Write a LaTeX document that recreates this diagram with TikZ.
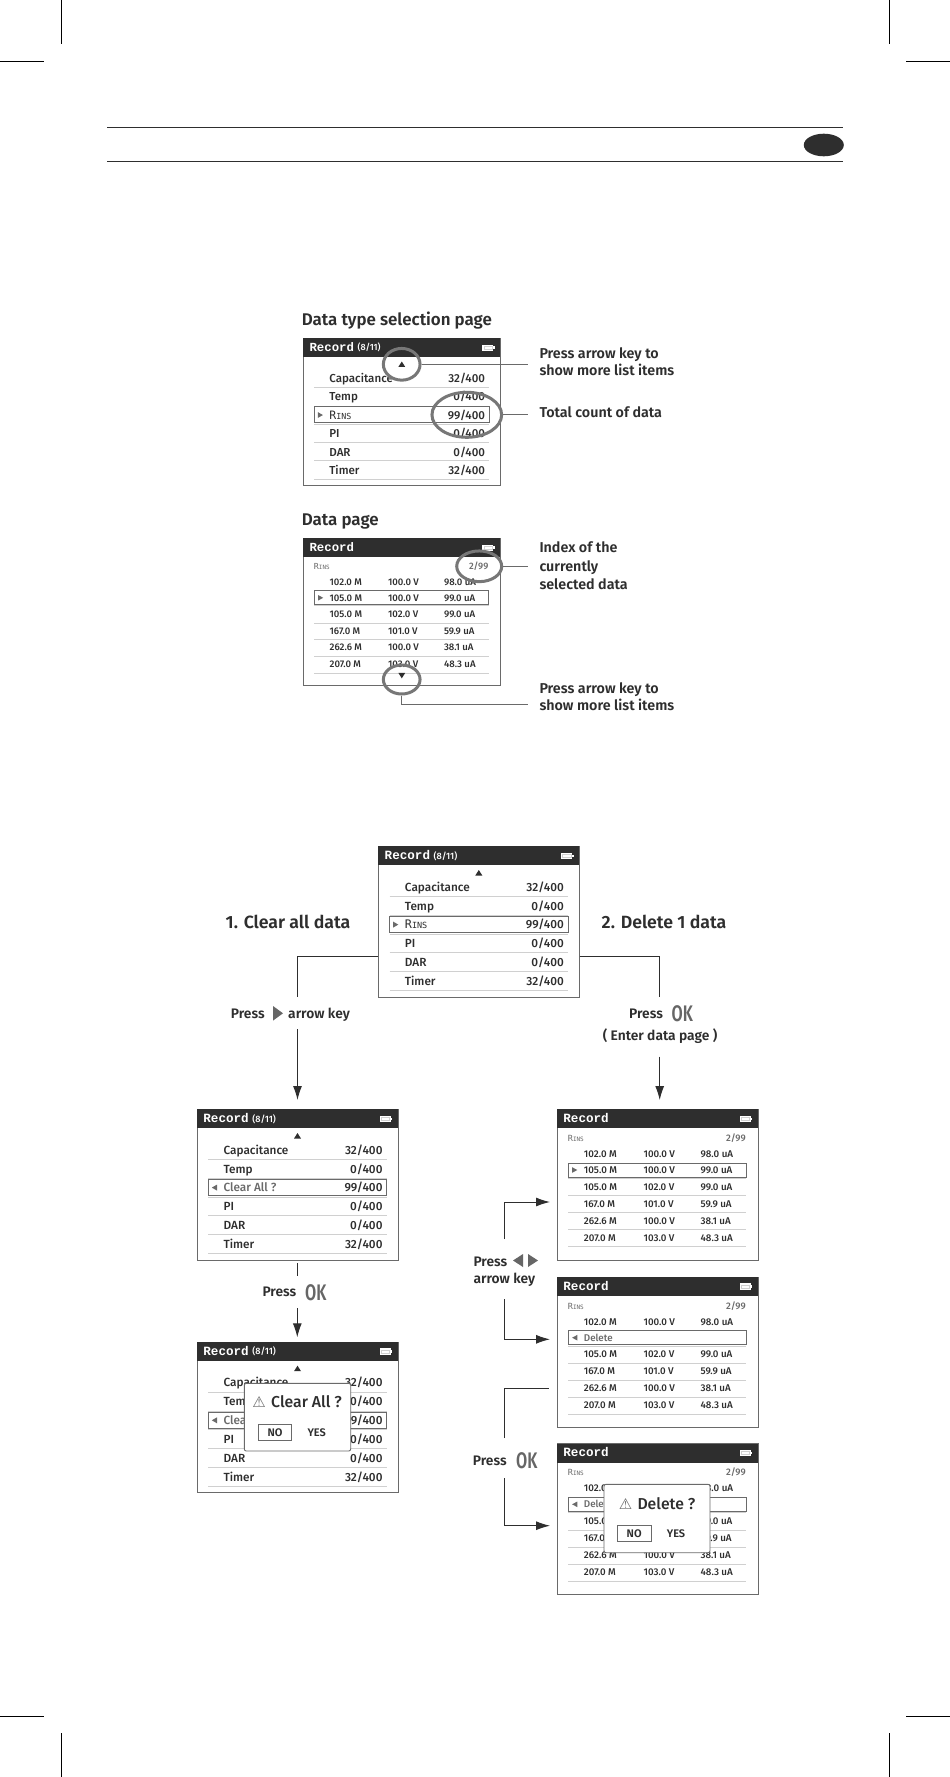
\documentclass[tikz,border=0pt]{standalone}
\usepackage{fontspec}
\usepackage{graphicx}
\setmainfont{Fira Sans}[UprightFont=*-Medium,BoldFont=*-SemiBold]
\newfontfamily\rowfont{Fira Sans}[UprightFont=*-Medium]
\newfontfamily\monof{Liberation Mono}
\newfontfamily\rinsf{DejaVu Sans Mono}
\newfontfamily\djv{DejaVu Sans}
\definecolor{ink}{HTML}{2E2E2E}
\definecolor{frame}{HTML}{6A6A6A}
\definecolor{sepc}{HTML}{D0D0D0}
\definecolor{ovalc}{HTML}{777777}
\definecolor{okc}{HTML}{666666}
\newcommand{\fz}[1]{\fontsize{#1}{#1}\selectfont}
\usetikzlibrary{arrows.meta,shapes.geometric}
\tikzset{
  x=1pt,y=-1pt,
  frameb/.style={draw=frame,line width=0.9pt,fill=white,rectangle,minimum width=200.8pt,minimum height=150.5pt,inner sep=0pt,anchor=north west},
  hdr/.style={fill=ink,draw=none,rectangle,minimum width=200.8pt,minimum height=19pt,inner sep=0pt,anchor=north west},
  hdrtxt/.style={text=white,font=\monof\bfseries\fz{12.6},anchor=west,inner sep=0pt,text height=8.5pt,text depth=1pt},
  hdrsub/.style={text=white,font=\rowfont\fz{9.2},anchor=west,inner sep=0pt,text height=9pt,text depth=2pt},
  rowl/.style={text=ink,font=\rowfont\fz{11.8},anchor=west,inner sep=0pt,text height=10.5pt,text depth=2.5pt},
  rowr/.style={text=ink,font=\rowfont\fz{11.8},anchor=east,inner sep=0pt,text height=10.5pt,text depth=2.5pt},
  dat/.style={text=ink,font=\rowfont\fz{9.8},anchor=west,inner sep=0pt,text height=9pt,text depth=2pt},
  seph/.style={draw=sepc,line width=0.7pt},
  selb/.style={draw=frame,line width=1pt,fill=white},
  glab/.style={text=frame,font=\rowfont\fz{9.5},inner sep=0pt,text height=9pt,text depth=2pt},
  ovalb/.style={draw=ovalc,line width=3pt,ellipse,inner sep=0pt},
  lab/.style={text=ink,font=\bfseries\fz{14.3},anchor=west,inner sep=0pt,text height=12.2pt,text depth=3pt},
  title/.style={text=ink,font=\bfseries\fz{16.9},anchor=west,inner sep=0pt,text height=14.2pt,text depth=4pt},
  bigt/.style={text=ink,font=\bfseries\fz{17.7},anchor=west,inner sep=0pt,text height=15.2pt,text depth=4pt},
  presst/.style={text=ink,font=\bfseries\fz{13.8},anchor=west,inner sep=0pt,text height=13pt,text depth=3pt},
  okt/.style={text=okc,font=\bfseries\fz{22.5},anchor=west,inner sep=0pt},
  conn/.style={draw=ink,line width=1pt},
  arr/.style={conn,-{Latex[length=14pt,width=9pt]}},
  leader/.style={draw=frame,line width=1pt},
  crop/.style={draw=black,line width=0.7pt},
  dlg/.style={draw=frame,line width=0.9pt,fill=white,rounded corners=2pt},
  dlgt/.style={anchor=west,inner sep=0pt,text=ink,font=\rowfont\fz{15.8},text height=13.5pt,text depth=3pt},
  btn/.style={inner sep=0pt,text=ink,font=\bfseries\fz{11},text height=8pt,text depth=0pt},
  nob/.style={btn,draw=frame,line width=0.9pt,rectangle,minimum width=33.5pt,minimum height=16pt},
}
% battery icon
\newcommand{\battery}{%
  \fill[white] (183,6.7) rectangle (194.3,12.9);
  \fill[white] (194.3,8.5) rectangle (195.5,11);
  \draw[sepc,line width=0.5pt] (184.5,8.2) rectangle (192.8,11.4);
}
% panel frame: #1 name, #2 x, #3 y, #4 scale
\newcommand{\frameP}[4]{%
  \node[frameb,scale=#4] (#1) at (#2,#3) {};
  \begin{scope}[shift={(#2,#3)},scale=#4,every node/.append style={transform shape}]
    \node[hdr] (#1h) at (0,0) {};
    \battery
  \end{scope}
}
% list panel: #1 name #2 x #3 y #4 scale #5 selected row text #6 triangle sign (1 right, -1 left) #7 text colour
\newcommand{\listP}[7]{%
  \frameP{#1}{#2}{#3}{#4}
  \begin{scope}[shift={(#2,#3)},scale=#4,every node/.append style={transform shape}]
    \node[hdrtxt] (#1r) at (6.5,9.8) {Record};
    \node[hdrsub] (#1c) at (55.5,9.5) {(8/11)};
    \fill[ink] (97.3,29.5) -- (104.3,29.5) -- (100.8,24) -- cycle;
    \node[rowl] (#1a) at (26.7,41) {Capacitance};
    \node[rowr] (#1A) at (186,41) {32/400};
    \draw[seph] (11.7,50.3) -- (190,50.3);
    \node[rowl] (#1b) at (26.7,60) {Temp};
    \node[rowr] (#1B) at (186,60) {0/400};
    \draw[seph] (11.7,69.3) -- (190,69.3);
    \draw[selb] (11.7,70.3) rectangle (190,86.7);
    \fill[frame] ({17.7-#6*2.6},75.6) -- ({17.7+#6*2.6},78.6) -- ({17.7-#6*2.6},81.6) -- cycle;
    \node[rowl,#7] (#1c2) at (26.7,78.7) {#5};
    \node[rowr] (#1C) at (186,78.7) {99/400};
    \draw[seph] (11.7,87.9) -- (190,87.9);
    \node[rowl] (#1d) at (26.7,97.7) {PI};
    \node[rowr] (#1D) at (186,97.7) {0/400};
    \draw[seph] (11.7,106.7) -- (190,106.7);
    \node[rowl] (#1e) at (26.7,116.7) {DAR};
    \node[rowr] (#1E) at (186,116.7) {0/400};
    \draw[seph] (11.7,125.3) -- (190,125.3);
    \node[rowl] (#1f) at (26.7,135.3) {Timer};
    \node[rowr] (#1F) at (186,135.3) {32/400};
    \draw[seph] (11.7,144.3) -- (190,144.3);
  \end{scope}
}
\newcommand{\rins}{{\rinsf R{\fontsize{8.5}{8.5}\selectfont INS}}}
% data row
\newcommand{\datR}[5]{%
  \node[dat] (#1x) at (27,#2) {#3};
  \node[dat] (#1y) at (86.7,#2) {#4};
  \node[dat] (#1z) at (143.7,#2) {#5};
}
% data panel: #1 name #2 x #3 y #4 scale #5 selection mode (sel or del)
\newcommand{\dataP}[5]{%
  \frameP{#1}{#2}{#3}{#4}
  \begin{scope}[shift={(#2,#3)},scale=#4,every node/.append style={transform shape}]
    \node[hdrtxt] (#1r) at (6.5,9.8) {Record};
    \node[glab,anchor=west,font=\rinsf\fz{8.5}] (#1i) at (11,29) {R{\fz{6}INS}};
    \node[glab,anchor=east] (#1n) at (189.3,29) {2/99};
    \datR{#1p}{45}{102.0 M}{100.0 V}{98.0 uA}
    \draw[selb] (11.7,54) rectangle (189.5,68);
    #5
    \draw[seph] (11.7,69.2) -- (189.5,69.2);
    \datR{#1s}{77.7}{105.0 M}{102.0 V}{99.0 uA}
    \draw[seph] (11.7,86.7) -- (189.5,86.7);
    \datR{#1t}{94.7}{167.0 M}{101.0 V}{59.9 uA}
    \draw[seph] (11.7,103.7) -- (189.5,103.7);
    \datR{#1u}{111.7}{262.6 M}{100.0 V}{38.1 uA}
    \draw[seph] (11.7,120.7) -- (189.5,120.7);
    \datR{#1v}{128.7}{207.0 M}{103.0 V}{48.3 uA}
    \draw[seph] (11.7,137.7) -- (189.5,137.7);
  \end{scope}
}
\newcommand{\selA}{%
  \fill[frame] (15.4,58.2) -- (20.6,61) -- (15.4,63.8) -- cycle;
  \datR{selR}{61}{105.0 M}{100.0 V}{99.0 uA}
}
\newcommand{\selB}{%
  \fill[frame] (20.6,58.2) -- (15.4,61) -- (20.6,63.8) -- cycle;
  \node[dat,text=frame] (delT) at (27,61) {Delete};
}
\newcommand{\okg}{\scalebox{0.72}[1]{OK}}
\newcommand{\warn}{{\djv\fz{15}\char"26A0}}
\begin{document}
\begin{tikzpicture}
\useasboundingbox (0,0) rectangle (950,1777);
\fill[white] (0,0) rectangle (950,1777);
% crop marks
\draw[crop] (61,0) -- (61,44);
\draw[crop] (889,0) -- (889,44);
\draw[crop] (0,61.3) -- (44,61.3);
\draw[crop] (906,61.3) -- (950,61.3);
\draw[crop] (61,1733) -- (61,1777);
\draw[crop] (889,1733) -- (889,1777);
\draw[crop] (0,1716.3) -- (44,1716.3);
\draw[crop] (906,1716.3) -- (950,1716.3);
% header band
\draw[draw=ink,line width=1.4pt] (107,127.7) -- (843,127.7);
\draw[draw=ink,line width=1.4pt] (107,161.7) -- (843,161.7);
\fill[ink] (823.8,145) ellipse (20 and 11.3);
% top section
\node[title] (t1) at (301.7,320) {Data type selection page};
\listP{pa}{303}{338}{0.98}{\rins}{1}{text=ink}
\node[ovalb,minimum width=36.7pt,minimum height=31.7pt] (o1) at (401.7,364.3) {};
\node[ovalb,minimum width=69.7pt,minimum height=45pt] (o2) at (466.8,414.8) {};
\node[lab] (l1) at (539.3,354) {Press arrow key to};
\node[lab] (l2) at (539.3,371) {show more list items};
\node[lab] (l3) at (539.3,412.7) {Total count of data};
\coordinate (c1) at (528.3,364.3);
\coordinate (c2) at (528.3,414.8);
\draw[leader] (o1.east) -- (c1);
\draw[leader] (o2.east) -- (c2);
\node[title] (t2) at (301.7,520) {Data page};
\dataP{pb}{303}{538}{0.98}{\selA}
\begin{scope}[shift={(303,538)},scale=0.98]
  \fill[ink] (97.3,137.6) -- (104.3,137.6) -- (100.8,143.2) -- cycle;
\end{scope}
\node[ovalb,minimum width=45pt,minimum height=30.7pt] (o3) at (479.2,566.3) {};
\node[ovalb,minimum width=36.7pt,minimum height=29pt] (o4) at (401.7,679.5) {};
\node[lab] (l4) at (539.3,547.7) {Index of the};
\node[lab] (l5) at (539.3,566.7) {currently};
\node[lab] (l6) at (539.3,585) {selected data};
\node[lab] (l7) at (539.3,689) {Press arrow key to};
\node[lab] (l8) at (539.3,706) {show more list items};
\coordinate (c3) at (528.3,566.3);
\coordinate (c4) at (528.3,704.7);
\draw[leader] (o3.east) -- (c3);
\draw[leader] (o4.south) |- (c4);
% lower section
\listP{pc}{378}{846}{1}{\rins}{1}{text=ink}
\node[bigt] (t3) at (225.5,923.3) {1. Clear all data};
\node[bigt] (t4) at (601.5,923.3) {2. Delete 1 data};
\node[presst] (pr1) at (230.7,1013.3) {Press};
\fill[okc] (273,1006) -- (283,1013.3) -- (273,1020.6) -- cycle;
\node[presst] (pr2) at (288,1013.3) {arrow key};
\coordinate (j1) at (297.5,996.7);
\coordinate (j2) at (297.5,1029);
\draw[conn] (pc.west |- 0,956.7) -| (j1);
\listP{pd}{196.7}{1109}{1}{Clear All ?}{-1}{text=frame}
\draw[arr] (j2) -- (297.5,1100);
\coordinate (j3) at (659.7,996.7);
\draw[conn] (pc.east |- 0,956.7) -| (j3);
\node[presst] (pr3) at (629,1013.3) {Press};
\node[okt] (ok1) at (671.4,1014) {\okg};
\node[presst] (en) at (602.6,1035.7) {( Enter data page )};
\coordinate (j4) at (659.7,1056.7);
\dataP{pf}{556.7}{1109}{1}{\selA}
\draw[arr] (j4) -- (659.7,1100);
% left column
\coordinate (j5) at (297.3,1263.3);
\coordinate (j6) at (297.3,1275.7);
\draw[conn] (j5) -- (j6);
\node[presst] (pr4) at (262.3,1291.7) {Press};
\node[okt] (ok2) at (305,1292.7) {\okg};
\coordinate (j7) at (297.3,1308.3);
\listP{pe}{196.7}{1341.7}{1}{Clear All ?}{-1}{text=frame}
\draw[arr] (j7) -- (297.3,1337.3);
\draw[dlg] (244.3,1383.3) rectangle (350.7,1451);
\node[text=frame,inner sep=0pt] (w1) at (259,1402.5) {\warn};
\node[dlgt] (dl1) at (271,1402) {Clear All ?};
\node[nob] (no1) at (275,1432.2) {NO};
\node[btn] (ye1) at (316.7,1432) {YES};
% right column
\dataP{pg}{556.7}{1276.7}{1}{\selB}
\dataP{ph}{556.7}{1443.3}{1}{\selB}
\draw[dlg] (604,1484.3) rectangle (710,1552.7);
\node[text=frame,inner sep=0pt] (w2) at (625.7,1504.5) {\warn};
\node[dlgt] (dl2) at (637.3,1504) {Delete ?};
\node[nob] (no2) at (634.2,1533.7) {NO};
\node[btn] (ye2) at (676,1533.7) {YES};
\node[presst] (pr5) at (473.3,1261) {Press};
\fill[okc] (523,1254) -- (513,1260.5) -- (523,1267) -- cycle;
\fill[okc] (528,1254) -- (538,1260.5) -- (528,1267) -- cycle;
\node[presst] (pr6) at (473.3,1278) {arrow key};
\coordinate (k1) at (504.7,1239);
\coordinate (k2) at (504.7,1299.3);
\coordinate (a1) at (550,1202);
\coordinate (a2) at (550,1339.3);
\draw[arr] (k1) |- (a1);
\draw[arr] (k2) |- (a2);
\coordinate (k3) at (504.7,1438);
\coordinate (k4) at (504.7,1478.3);
\coordinate (a3) at (549.3,1388);
\coordinate (a4) at (550,1525.7);
\draw[conn] (k3) |- (a3);
\draw[arr] (k4) |- (a4);
\node[presst] (pr7) at (472.7,1460) {Press};
\node[okt] (ok3) at (516,1460.5) {\okg};
\end{tikzpicture}
\end{document}
